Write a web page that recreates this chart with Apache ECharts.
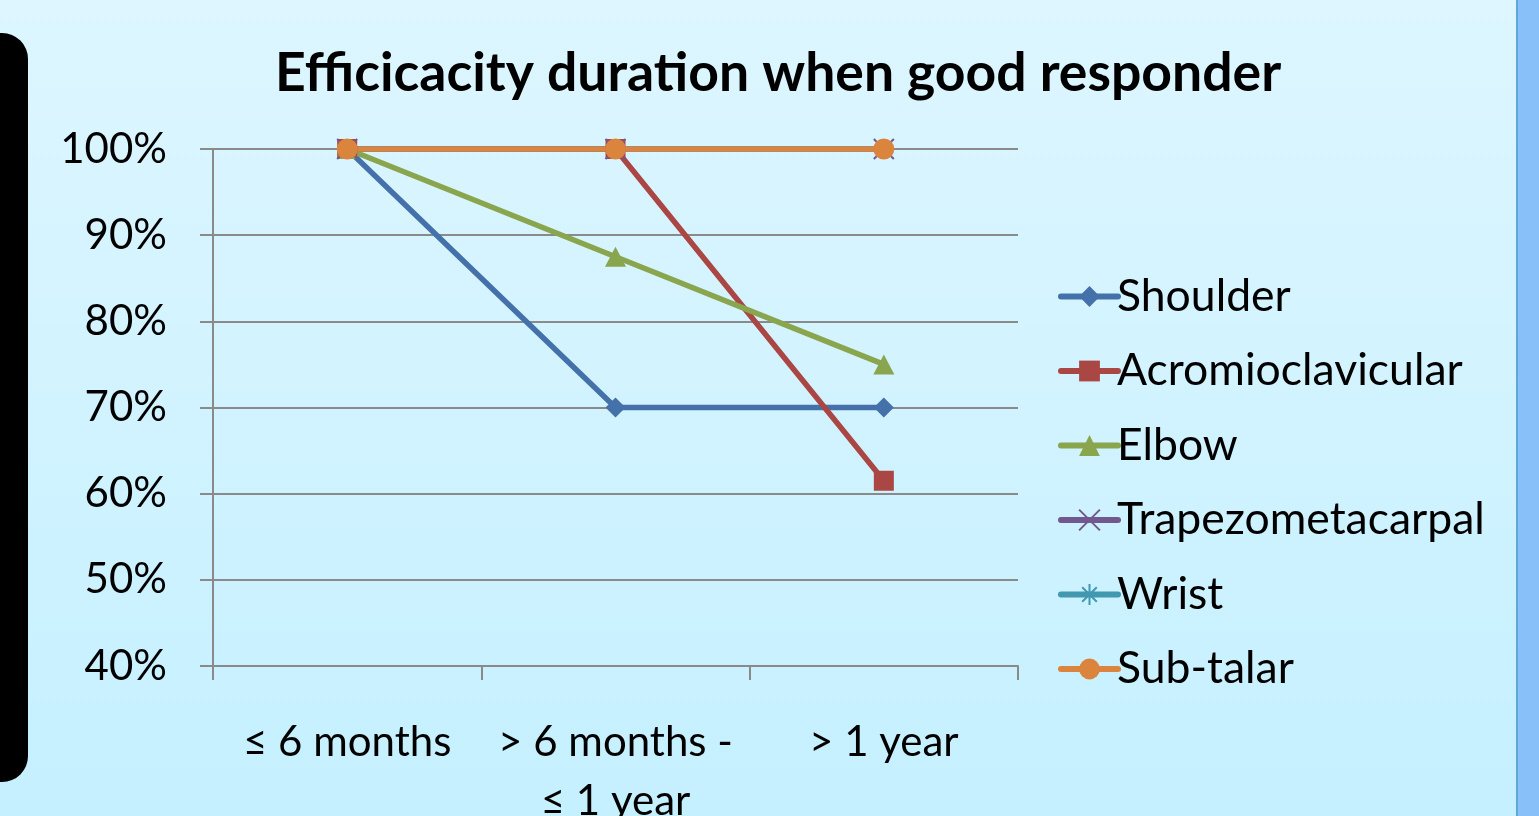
<!DOCTYPE html>
<html>
<head>
<meta charset="utf-8">
<title>Efficicacity duration when good responder</title>
<script src="https://cdn.jsdelivr.net/npm/echarts@6/dist/echarts.min.js"></script>
<style>
  html, body { margin: 0; padding: 0; }
  #chart { width: 1539px; height: 816px; }
</style>
</head>
<body>
<div id="chart"></div>
<script>
const categories = ['≤ 6 months', '> 6 months - ≤ 1 year', '> 1 year']

const shoulder = [100, 70, 70]
const acromioclavicular = [100, 100, 61.5]
const elbow = [100, 87.5, 75]
const trapezometacarpal = [100, 100, 100]
const wrist = [100, 100, 100]
const subTalar = [100, 100, 100]

const font = 'Lato, "Open Sans", sans-serif'

const crossPath = 'path://M0,0L10,10M10,0L0,10'
const starPath = 'path://M5,0L5,10M0,5L10,5M1.5,1.5L8.5,8.5M8.5,1.5L1.5,8.5'

const makeSeries = (name, data, color, symbol, size, stroke) => ({
  name: name,
  type: 'line',
  data: data,
  symbol: symbol,
  symbolSize: size,
  lineStyle: { color: color, width: 5.5, cap: 'round' },
  itemStyle: stroke
    ? { color: 'transparent', borderColor: color, borderWidth: 2 }
    : { color: color },
  emphasis: { disabled: true },
})

const options = {
  backgroundColor: {
    type: 'linear', x: 0, y: 0, x2: 0, y2: 1,
    colorStops: [
      { offset: 0, color: '#ddf6ff' },
      { offset: 1, color: '#c5f0ff' },
    ],
  },
  animation: false,
  title: {
    text: 'Efficicacity duration when good responder',
    left: 773,
    textAlign: 'center',
    top: 42,
    textStyle: { fontFamily: font, fontSize: 53.5, fontWeight: 'bold', color: '#000' },
  },
  graphic: [
    {
      type: 'rect',
      shape: { x: -40, y: 33, width: 68, height: 749, r: 26 },
      style: { fill: '#000' },
    },
    {
      type: 'rect',
      shape: { x: 1517, y: 0, width: 22, height: 816 },
      style: { fill: '#88c1f9' },
    },
    {
      type: 'rect',
      shape: { x: 1516, y: 0, width: 2, height: 816 },
      style: { fill: '#5ea7d6' },
    },
  ],
  legend: {
    orient: 'vertical',
    left: 1053,
    top: 269,
    itemWidth: 57,
    itemHeight: 26,
    itemGap: 29.5,
    lineStyle: { width: 6, cap: 'round' },
    textStyle: { fontFamily: font, fontSize: 44.5, color: '#000', padding: [0, 0, 0, -6] },
  },
  grid: { left: 213, right: 521, top: 149, bottom: 150, outerBoundsMode: 'none', containLabel: false },
  xAxis: {
    type: 'category',
    data: categories,
    boundaryGap: true,
    axisLine: { lineStyle: { color: '#8a8a8a', width: 2 } },
    axisTick: { show: true, interval: 0, length: 14, lineStyle: { color: '#8a8a8a', width: 2 } },
    axisLabel: {
      interval: 0,
      margin: 47,
      fontFamily: font,
      fontSize: 42,
      color: '#000',
      lineHeight: 59,
      formatter: v => v.replace(' - ', ' -\n'),
    },
  },
  yAxis: {
    type: 'value',
    min: 40,
    max: 100,
    interval: 10,
    axisLine: { show: true, lineStyle: { color: '#8a8a8a', width: 2 } },
    axisTick: { show: true, length: 13, lineStyle: { color: '#8a8a8a', width: 2 } },
    splitLine: { lineStyle: { color: '#8a8a8a', width: 2 } },
    axisLabel: {
      margin: 46,
      fontFamily: font,
      fontSize: 42,
      color: '#000',
      formatter: '{value}%',
    },
  },
  series: [
    makeSeries('Shoulder', shoulder, '#4471a9', 'diamond', 20),
    makeSeries('Acromioclavicular', acromioclavicular, '#aa4643', 'rect', 20),
    makeSeries('Elbow', elbow, '#89a54e', 'triangle', [21, 20]),
    makeSeries('Trapezometacarpal', trapezometacarpal, '#71588f', crossPath, 20, true),
    makeSeries('Wrist', wrist, '#4198af', starPath, 20, true),
    makeSeries('Sub-talar', subTalar, '#db843d', 'circle', 21),
  ],
}

const chart = echarts.init(document.getElementById('chart'))
chart.setOption(options)
window.onresize = function () {
  chart.resize()
}
</script>
</body>
</html>
